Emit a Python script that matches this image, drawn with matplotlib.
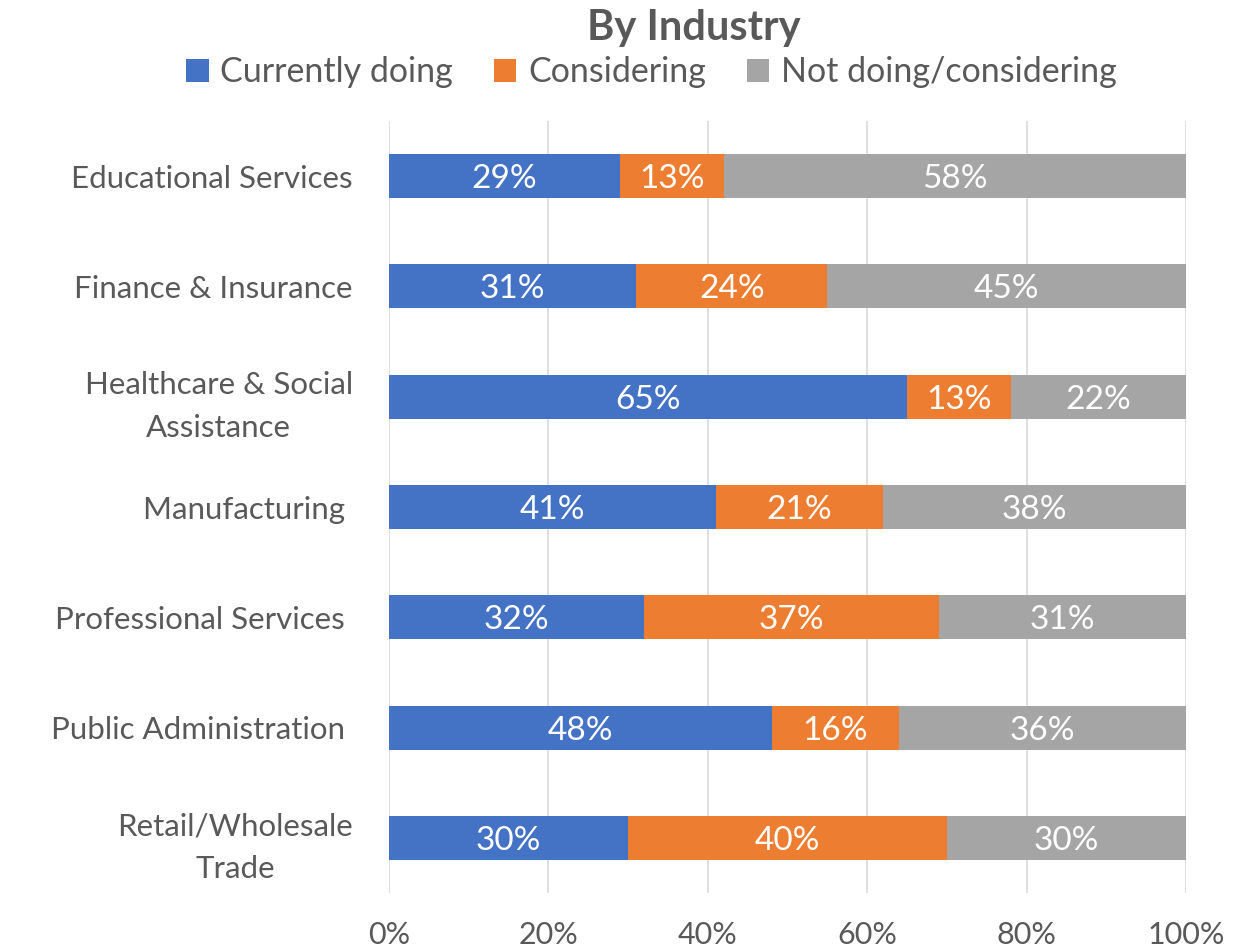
import numpy as np
import matplotlib.pyplot as plt
from matplotlib.ticker import PercentFormatter

categories = ["Educational Services", "Finance & Insurance", "Healthcare & Social\nAssistance",
              "Manufacturing ", "Professional Services ", "Public Administration ",
              "Retail/Wholesale\nTrade"]
doing = [29, 31, 65, 41, 32, 48, 30]
considering = [13, 24, 13, 21, 37, 16, 40]
not_doing = [58, 45, 22, 38, 31, 36, 30]

series = [("Currently doing", doing, "#4472C4"),
          ("Considering", considering, "#ED7D31"),
          ("Not doing/considering", not_doing, "#A5A5A5")]

plt.rcParams['font.family'] = ['Lato', 'DejaVu Sans']
text_color = "#595959"

fig = plt.figure(figsize=(12.48, 9.49), dpi=100)
ax = fig.add_axes([0.3117, 0.059, 0.6386, 0.8135])

y = np.arange(len(categories))
left = np.zeros(len(categories))
for name, vals, color in series:
    vals = np.array(vals, dtype=float)
    ax.barh(y, vals, left=left, height=0.4, color=color, label=name, zorder=3)
    for yi, l, v in zip(y, left, vals):
        ax.text(l + v / 2, yi, f"{int(v)}%", ha="center", va="center_baseline",
                color="white", fontsize=24, zorder=4)
    left += vals

ax.set_xlim(0, 100)
ax.set_ylim(len(categories) - 0.5, -0.5)
ax.set_yticks(y)
ax.set_yticklabels(categories, fontsize=22.5, color=text_color, ha="right",
                   multialignment="center", linespacing=1.65)
ax.set_xticks(np.arange(0, 101, 20))
ax.xaxis.set_major_formatter(PercentFormatter(decimals=0))
ax.tick_params(axis="x", labelsize=22, labelcolor=text_color, length=0, pad=20)
ax.tick_params(axis="y", length=0, pad=26)
ax.grid(axis="x", color="#D9D9D9", linewidth=1.2, zorder=0)
for s in ax.spines.values():
    s.set_visible(False)

fig.text(0.556, 0.97, "By Industry", ha="center", va="center", fontsize=30,
         fontweight="bold", color=text_color)
ax.legend(loc="center", bbox_to_anchor=(0.522, 0.924), bbox_transform=fig.transFigure,
          ncol=3, frameon=False, fontsize=24.5, labelcolor=text_color,
          handlelength=0.65, handleheight=0.65, handletextpad=0.35, columnspacing=1.2)

fig.savefig("out.png", dpi=100)
